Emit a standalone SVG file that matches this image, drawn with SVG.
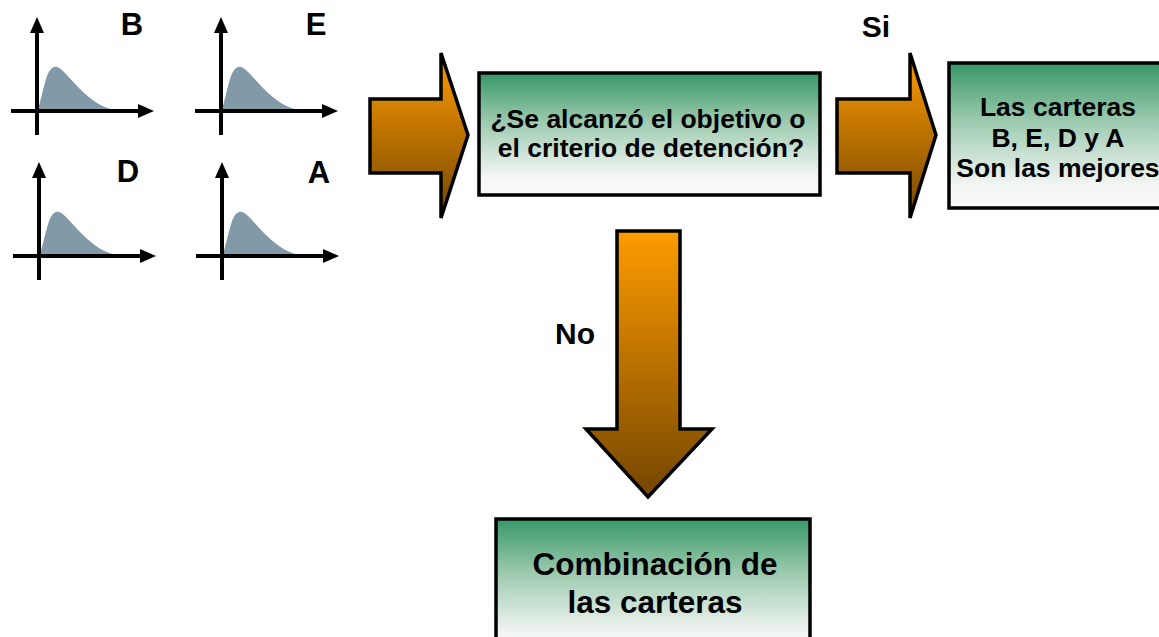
<svg xmlns="http://www.w3.org/2000/svg" xmlns:xlink="http://www.w3.org/1999/xlink" width="1159" height="637" viewBox="0 0 1159 637">
<style>
  .t { font-family: "Liberation Sans", Arial, sans-serif; font-weight: bold; fill: #000; text-anchor: middle; }
  .box { fill: url(#gBox); stroke: #000; stroke-width: 3.5; }
  .arr { fill: url(#gArr); stroke: #000; stroke-width: 3.5; stroke-linejoin: miter; }
  .ax { stroke: #000; stroke-width: 4; }
</style>
<defs>
  <linearGradient id="gBox" x1="0" y1="0" x2="0" y2="1">
    <stop offset="0" stop-color="#379768"/>
    <stop offset="0.4" stop-color="#9ccaae"/>
    <stop offset="0.85" stop-color="#f4f6f5"/>
    <stop offset="1" stop-color="#fafafa"/>
  </linearGradient>
  <linearGradient id="gArr" x1="0" y1="0" x2="0" y2="1">
    <stop offset="0" stop-color="#ff9c00"/>
    <stop offset="1" stop-color="#744600"/>
  </linearGradient>
  <g id="chart">
    <path d="M37,111 C40,105 43,88 47,76 C50,68 54,66 57,67 C62,68 70,79 80,89 C92,101 103,108 118,111 Z" fill="#8299a8"/>
    <line class="ax" x1="37" y1="135" x2="37" y2="30"/>
    <polygon points="30,33 44,33 37,17" fill="#000"/>
    <line class="ax" x1="11" y1="111" x2="140" y2="111"/>
    <polygon points="138,104 138,118 154,111" fill="#000"/>
  </g>
</defs>

<g id="chartB"><use xlink:href="#chart" href="#chart"/><text class="t" x="132" y="35" font-size="31">B</text></g>
<g id="chartE"><use xlink:href="#chart" href="#chart" transform="translate(184,0)"/><text class="t" x="316" y="35" font-size="31">E</text></g>
<g id="chartD"><use xlink:href="#chart" href="#chart" transform="translate(2,145)"/><text class="t" x="128" y="182" font-size="31">D</text></g>
<g id="chartA"><use xlink:href="#chart" href="#chart" transform="translate(185,145)"/><text class="t" x="319" y="183" font-size="31">A</text></g>

<g id="connectors">
  <polygon class="arr" points="370,99 441,99 441,53 468,135 441,218 441,173 370,173"/>
  <polygon class="arr" points="837,99 910,99 910,53 936,135 910,218 910,173 837,173"/>
  <text class="t" x="876" y="37" font-size="30">Si</text>
  <polygon class="arr" points="617,231 680,231 680,429 712,429 648,497 586,429 617,429"/>
  <text class="t" x="575" y="344" font-size="30">No</text>
</g>

<g id="decision">
  <rect class="box" x="479" y="73" width="341" height="122"/>
  <text class="t" x="648" y="128" font-size="26.5">¿Se alcanzó el objetivo o</text>
  <text class="t" x="651" y="157" font-size="26.5">el criterio de detención?</text>
</g>

<g id="best">
  <rect class="box" x="949" y="63" width="222" height="145"/>
  <text class="t" x="1058" y="116" font-size="26.5">Las carteras</text>
  <text class="t" x="1058" y="147" font-size="26.5">B, E, D y A</text>
  <text class="t" x="1058" y="177" font-size="26.5">Son las mejores</text>
</g>

<g id="combine">
  <rect class="box" x="496" y="519" width="314" height="135"/>
  <text class="t" x="655" y="575" font-size="31.5">Combinación de</text>
  <text class="t" x="655" y="613" font-size="31.5">las carteras</text>
</g>
</svg>
